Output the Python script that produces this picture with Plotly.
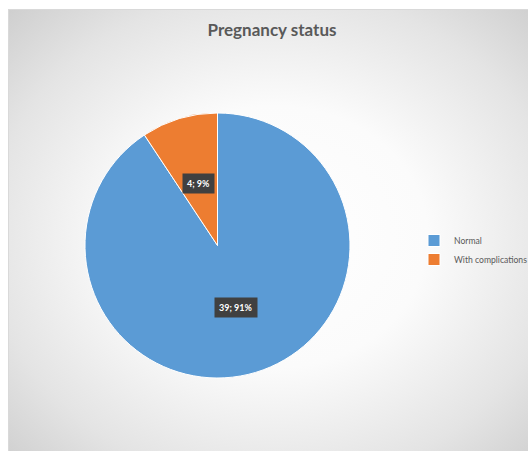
import math
import base64
import plotly.graph_objects as go

categories = ["Normal", "With complications"]
counts = [39, 4]
colors = ["#5B9BD5", "#ED7D31"]
title_text = "Pregnancy status"

W, H = 528, 451
cx_px, cy_px, r_px = 217.5, 245.5, 132.5

svg = f'''<svg xmlns="http://www.w3.org/2000/svg" width="{W}" height="{H}" viewBox="0 0 {W} {H}">
<defs><radialGradient id="g" cx="0.5" cy="0.5" r="0.72">
<stop offset="0" stop-color="#ffffff"/>
<stop offset="0.4" stop-color="#fbfbfb"/>
<stop offset="0.75" stop-color="#e4e4e4"/>
<stop offset="1" stop-color="#cdcdcd"/>
</radialGradient></defs>
<rect x="0" y="0" width="{W}" height="{H}" fill="#ffffff"/>
<rect x="8.5" y="9.5" width="{W + 4}" height="{H + 4}" fill="url(#g)" stroke="#d9d9d9" stroke-width="1"/>
</svg>'''
bg_uri = "data:image/svg+xml;base64," + base64.b64encode(svg.encode()).decode()

fig = go.Figure()
fig.add_trace(go.Pie(
    labels=categories,
    values=counts,
    sort=False,
    direction="clockwise",
    rotation=0,
    marker=dict(colors=colors, line=dict(color="#ffffff", width=1)),
    textinfo="none",
    hoverinfo="label+value+percent",
    domain=dict(x=[(cx_px - r_px) / W, (cx_px + r_px) / W],
                y=[1 - (cy_px + r_px) / H, 1 - (cy_px - r_px) / H]),
))

total = sum(counts)
annotations = []
cum = 0
for v in counts:
    mid = (cum + v / 2) / total * 2 * math.pi
    cum += v
    rr = 0.49 * r_px
    px = cx_px + rr * math.sin(mid)
    py = cy_px - rr * math.cos(mid)
    pct = round(100 * v / total)
    annotations.append(dict(
        x=px / W, y=1 - py / H, xref="paper", yref="paper",
        text=f"<b>{v}; {pct}%</b>", showarrow=False,
        font=dict(family="Lato", size=9, color="#ffffff"),
        bgcolor="#404040", borderpad=4,
        xanchor="center", yanchor="middle",
    ))

fig.update_layout(
    width=W, height=H,
    margin=dict(l=0, r=0, t=0, b=0, autoexpand=False),
    paper_bgcolor="#ffffff",
    plot_bgcolor="rgba(0,0,0,0)",
    images=[dict(source=bg_uri, xref="paper", yref="paper", x=0, y=1,
                 sizex=1, sizey=1, sizing="stretch", layer="below",
                 xanchor="left", yanchor="top")],
    title=dict(text=f"<b>{title_text}</b>", x=272 / W, y=1 - 30 / H,
               xanchor="center", yanchor="middle",
               font=dict(family="Lato", size=17, color="#595959")),
    legend=dict(x=414 / W, y=1 - 226 / H, xanchor="left", yanchor="top",
                font=dict(family="Lato", size=8.6, color="#595959"),
                bgcolor="rgba(0,0,0,0)", itemwidth=30),
    showlegend=True,
    annotations=annotations,
)

fig.write_html(
    "out.html",
    config={"displayModeBar": False},
    post_script="document.body.style.margin='0';"
                "document.documentElement.style.overflow='hidden';",
)
